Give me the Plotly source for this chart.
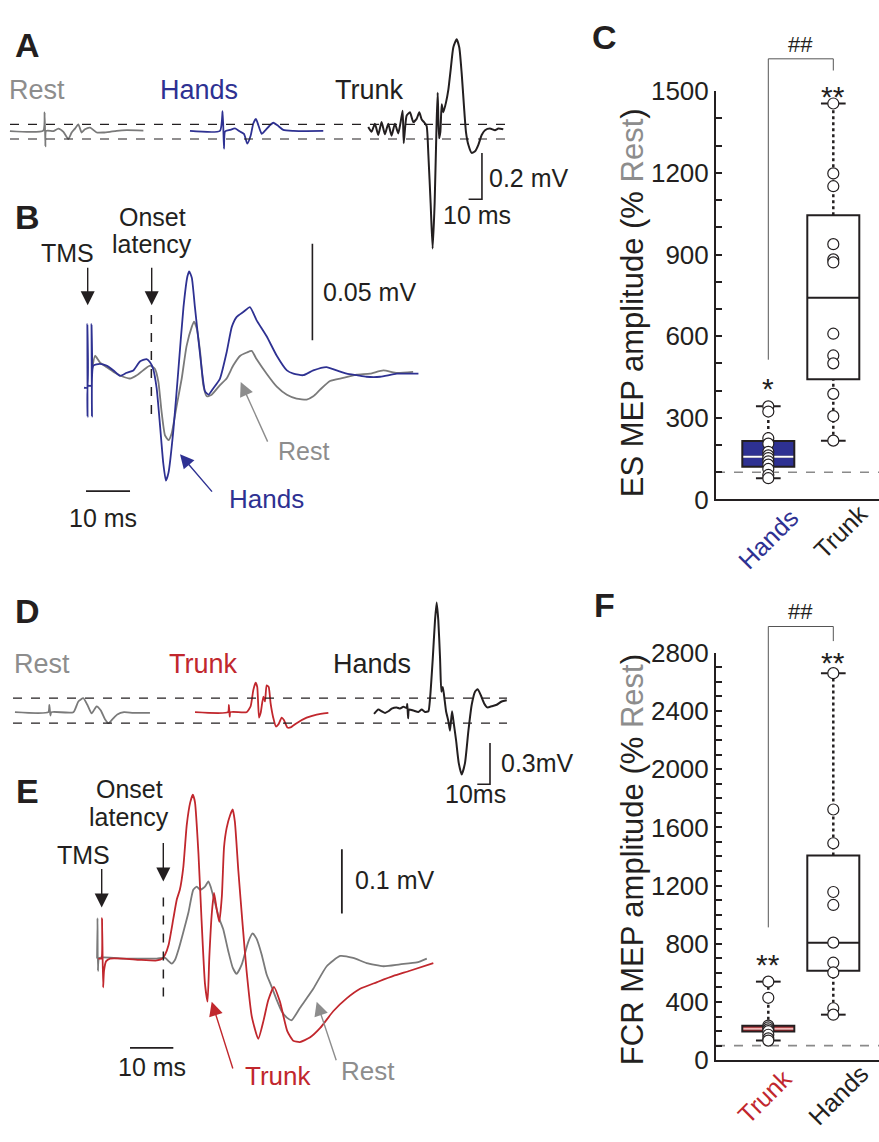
import plotly.graph_objects as go

W, H = 879, 1142
NAVY = "#2e3192"
RED = "#c1272d"
GREY = "#7a7a7a"
GREY_T = "#8d8d8d"
BLACK = "#231f20"
FONT = "Arial, Liberation Sans, Helvetica, sans-serif"

# ---------------------------------------------------------------- box data
c_groups = ["Hands", "Trunk"]
c_hands_pts = [342, 323, 225, 205, 175, 162, 152, 140, 128, 112, 90, 78]
c_trunk_pts = [1455, 1198, 1151, 938, 882, 871, 609, 529, 500, 388, 306, 216]
# q1, median, q3, lower whisker, upper whisker
c_hands_box = [120, 157, 215, 78, 342]
c_trunk_box = [442, 741, 1044, 216, 1455]

f_groups = ["Trunk", "Hands"]
f_trunk_pts = [540, 429, 238, 225, 212, 200, 175, 150, 135]
f_hands_pts = [2660, 1723, 1491, 1156, 1067, 808, 670, 603, 357, 313]
f_trunk_box = [197, 216, 236, 135, 540]
f_hands_box = [614, 808, 1406, 313, 2660]
rest_level = 100  # % Rest reference

c_ticks = [0, 300, 600, 900, 1200, 1500]
f_ticks = [0, 400, 800, 1200, 1600, 2000, 2400, 2800]

# ---------------------------------------------------------------- traces (ms, mV)
a_rest_t = [-26.3, -1.3, -0.3, 0.3, 0.8, 6.3, 10.0, 13.8, 17.5, 20.0, 22.5, 25.0, 27.5, 30.0, 33.8, 38.8, 43.8, 48.8, 53.8, 61.3, 73.8]
a_rest_v = [-0.001, 0.001, 0.080, -0.067, 0.0, -0.001, 0.010, -0.004, -0.035, -0.007, 0.010, 0.028, -0.007, 0.007, 0.014, -0.007, -0.007, -0.004, 0.0, 0.003, 0.001]

a_hands_t = [-25, -2.5, -0.5, 0.5, 1.3, 5, 8.8, 12.5, 15.5, 18, 20.5, 22.5, 24.5, 26.5, 28.8, 31.3, 34.5, 37.5, 41.3, 45, 52.5, 62.5, 75]
a_hands_v = [0, 0, 0.085, -0.077, -0.003, 0.004, 0.011, -0.003, -0.013, -0.055, -0.021, 0.032, 0.052, 0.021, -0.013, 0.001, 0.021, 0.035, 0.021, 0.004, 0, -0.001, 0]

a_trunk_t = [-26.3, -23.8, -21.3, -18.8, -16.3, -13.8, -11.3, -8.8, -6.3, -3.8, -2.0, -0.5, 0.3, 1.3, 2.5, 5.0, 7.5, 10.0, 12.0, 13.8,
             15.5, 17.5, 18.8, 20.5, 22.0, 23.5, 25.0, 25.8, 26.8, 27.8, 28.8, 30.0, 32.0, 33.8, 35.5, 37.5, 40.0, 42.0, 43.8, 45.5,
             47.0, 48.8, 51.3, 53.8, 56.3, 58.8, 61.3, 65.0, 68.8, 71.3, 75.0]
a_trunk_v = [0.017, -0.004, 0.031, -0.018, 0.038, -0.015, 0.031, -0.021, 0.031, -0.011, 0.038, 0.087, -0.053, 0.010, 0.066, 0.080, 0.038, 0.052, 0.080, 0.049,
             0.038, 0.021, -0.102, -0.312, -0.508, -0.312, 0.038, 0.164, -0.032, -0.004, 0.115, 0.080, 0.122, 0.178, 0.262, 0.360, 0.395, 0.360, 0.248, 0.108,
             -0.004, -0.060, -0.095, -0.088, -0.060, -0.018, 0.003, 0.010, 0.003, 0.010, 0.007]

# panel B in microvolts
b_hands_t = [-0.9, -0.2, -0.15, -0.1, 0.0, 0.75, 0.8, 0.9, 1.2, 2.7, 4.2, 5.8, 7.3, 8.8, 10.3, 11.8, 13.3, 14.1, 14.8, 15.6,
             16.4, 17.1, 17.7, 18.3, 19.4, 20.5, 21.7, 22.6, 23.0, 23.6, 24.3, 25.5, 26.6, 27.4, 28.5, 30.0, 31.5, 32.7, 33.8, 35.3,
             36.8, 38.3, 40.6, 42.9, 45.2, 46.7, 48.9, 51.2, 54.2, 56.5, 58.8, 61.1, 63.3, 66.4, 70.2, 75.1]
b_hands_v = [-9, -9, 24, -24, -8, -8, 24, -24, 2.5, 3.4, 2.5, 0, -2.8, -1.2, 0, 4.6, 5.9, 4.2, 0.9, -9.2,
             -29.4, -48, -57.2, -53, -31.1, -0.8, 32.8, 48.8, 51.4, 48, 32.8, 7.6, -10.9, -12.6, -9.2, -4.2, 9.3, 22.7, 27.8, 30.3,
             32.8, 26.1, 17.7, 7.6, 0, -1.7, -2.5, 0, 1.7, 0, -1.7, -2.5, -3.3, -3.3, -1.7, -1.7]
b_rest_t = [0.9, 1.6, 2.7, 4.2, 5.8, 8.0, 9.5, 11.1, 13.0, 14.1, 15.2, 16.0, 16.7, 17.5, 18.3, 19.0, 20.2, 21.3, 22.4, 23.6,
            24.1, 24.7, 25.5, 26.2, 27.0, 28.1, 30.0, 31.5, 33.0, 34.6, 36.1, 37.2, 38.3, 40.6, 42.9, 45.2, 47.4, 49.7, 51.2, 52.7,
            55.0, 58.0, 61.1, 64.1, 67.1, 70.2, 73.9]
b_rest_v = [0, 7.6, 4.2, 1.7, -0.8, -3.3, -4.2, -2.5, 0.9, 2.5, 0.9, -5.9, -21, -33.7, -36.2, -32.8, -17.7, -4.2, 12.6, 22.7,
            25.3, 21.9, 9.3, -7.6, -13.4, -12.6, -7.6, -4.2, 2.5, 7.6, 9.3, 10.1, 5.9, -1.7, -8.4, -12.6, -14.6, -15.1, -13.4, -10.1,
            -5.5, -3.9, -2.2, -1.7, 0, -1.3, -0.8]

d_rest_t = [-27.6, -1.3, -0.5, 0.3, 1.0, 18.4, 22.3, 26.2, 29.4, 32.8, 36.7, 39.9, 43.3, 45.9, 49.1, 53.0, 58.3, 65.6, 78.7]
d_rest_v = [0, 0, 0.054, -0.024, 0, 0, 0.078, 0.102, 0.054, -0.009, 0.043, 0.014, -0.052, -0.080, -0.052, -0.017, 0, -0.005, -0.005]

d_trunk_t = [-27.0, -1.0, -0.3, 0.3, 0.8, 13.6, 16.8, 18.9, 20.7, 22.0, 23.4, 24.7, 26.8, 28.1, 29.4, 31.0, 32.5, 34.6, 36.7, 38.8,
             41.2, 43.0, 45.7, 48.3, 53.0, 60.9, 68.8, 78.0]
d_trunk_v = [0, 0, 0.054, -0.033, 0, 0, 0.043, 0.161, 0.215, 0.184, -0.040, -0.005, 0.113, 0.078, 0.196, 0.184, 0.066, -0.040, -0.104, -0.087,
             -0.040, -0.057, -0.111, -0.111, -0.080, -0.040, -0.017, -0.005]

d_hands_t = [-26.5, -23.1, -20.5, -17.8, -15.2, -12.6, -8.7, -6.0, -3.4, -0.8, -0.3, 0.3, 1.0, 4.5, 8.4, 11.0, 13.6, 16.3, 17.6, 19.7,
             21.5, 22.8, 24.1, 25.5, 26.5, 27.6, 28.6, 30.2, 32.0, 33.3, 34.9, 36.2, 38.1, 40.2, 42.5, 45.1, 47.8, 50.4, 53.0, 55.1,
             57.5, 60.1, 62.7, 66.1, 70.1, 74.0, 78.0]
d_hands_v = [-0.012, 0.019, 0.007, -0.005, 0.007, 0.026, 0.035, 0.026, 0.040, 0.031, 0.059, -0.045, 0.019, 0.012, 0.002, 0.019, 0.002, 0.007, 0.102, 0.385,
             0.669, 0.799, 0.669, 0.385, 0.149, 0.184, 0.125, 0.007, -0.064, -0.135, 0.007, -0.076, -0.206, -0.371, -0.454, -0.371, -0.135, 0.054, 0.149, 0.168,
             0.125, 0.066, 0.035, 0.043, 0.054, 0.078, 0.087]

e_trunk_t = [-1.0, -0.3, -0.15, 0.1, 0.3, 0.8, 1.7, 4.8, 8.6, 12.5, 13.8, 14.4, 15.2, 16.3, 17.1, 17.8, 18.6, 19.4, 20.2, 20.8,
             21.3, 22.1, 22.8, 23.6, 24.2, 24.6, 25.2, 25.7, 26.3, 26.9, 27.5, 28.0, 28.6, 29.4, 30.0, 30.5, 31.3, 32.3, 33.2, 34.4,
             35.9, 37.1, 38.2, 39.5, 40.9, 42.6, 44.0, 45.5, 47.8, 50.2, 53.2, 56.3, 59.4, 63.2, 67.1, 70.9, 76.3]
e_trunk_v = [0, 0, 0.063, -0.045, -0.019, -0.004, 0, 0, -0.002, -0.003, 0, 0.006, 0.021, 0.062, 0.092, 0.107, 0.142, 0.208, 0.243, 0.255,
             0.243, 0.163, 0.062, -0.039, -0.067, 0.001, 0.072, 0.102, 0.077, 0.057, 0.097, 0.173, 0.203, 0.223, 0.232, 0.213, 0.137, 0.052, -0.019, -0.090,
             -0.125, -0.097, -0.065, -0.044, -0.067, -0.113, -0.128, -0.130, -0.123, -0.108, -0.082, -0.062, -0.047, -0.037, -0.027, -0.019, -0.007]
e_rest_t = [-1.3, -1.2, -1.1, -0.8, 4.8, 8.6, 12.5, 14.4, 15.2, 15.9, 16.7, 17.5, 18.6, 19.8, 20.9, 21.7, 22.5, 23.6, 24.4, 24.9,
            25.9, 26.9, 27.8, 29.0, 30.0, 30.9, 32.1, 33.6, 34.6, 35.5, 36.7, 37.8, 39.0, 40.2, 41.3, 42.5, 43.6, 45.5, 48.6, 51.7,
            54.8, 57.8, 60.9, 64.8, 68.6, 72.5, 74.8]
e_rest_v = [0, 0.063, -0.019, 0.001, 0, 0, 0, 0.001, -0.004, -0.008, -0.002, 0.014, 0.041, 0.072, 0.107, 0.112, 0.107, 0.112, 0.120, 0.112,
            0.087, 0.062, 0.046, 0.011, -0.014, -0.024, -0.009, 0.026, 0.039, 0.031, 0.006, -0.024, -0.044, -0.065, -0.082, -0.092, -0.096, -0.077, -0.047, -0.012,
            0.004, 0.001, -0.007, -0.012, -0.009, -0.006, 0]

onset_b_ms = 14.4
onset_e_ms = 14.0
scale_a = (10, 0.2)     # ms, mV
scale_b = (10, 50)      # ms, uV
scale_d = (10, 0.3)
scale_e = (10, 0.1)

# ---------------------------------------------------------------- layout helpers
fig = go.Figure()
lay = dict(width=W, height=H, margin=dict(l=0, r=0, t=0, b=0), paper_bgcolor="white",
           plot_bgcolor="rgba(0,0,0,0)", showlegend=False,
           font=dict(family=FONT, color=BLACK, size=24))


def xspec(p0, p1, origin, scale, anchor):
    return dict(domain=[p0 / W, p1 / W], range=[(p0 - origin) / scale, (p1 - origin) / scale],
                visible=False, fixedrange=True, anchor=anchor)


def yspec(ptop, pbot, base, scale, anchor):
    return dict(domain=[1 - pbot / H, 1 - ptop / H], range=[(base - pbot) / scale, (base - ptop) / scale],
                visible=False, fixedrange=True, anchor=anchor)


# Panel A axes
A_PX, A_PY = 1.333, 238.0
lay["yaxis3"] = yspec(5, 250, 119, A_PY, "x3")
lay["xaxis3"] = xspec(5, 160, 45, A_PX, "y3")
lay["xaxis4"] = xspec(175, 340, 223.3, A_PX, "y3")
lay["xaxis5"] = xspec(350, 540, 403.3, A_PX, "y3")
# Panel B
lay["yaxis4"] = yspec(225, 500, 365, 1.98, "x6")
lay["xaxis6"] = xspec(75, 440, 88, 4.4, "y4")
# Panel D
D_PX, D_PY = 1.27, 141.0
lay["yaxis5"] = yspec(592, 800, 716, D_PY, "x7")
lay["xaxis7"] = xspec(5, 165, 50, D_PX, "y5")
lay["xaxis8"] = xspec(180, 345, 229.3, D_PX, "y5")
lay["xaxis9"] = xspec(355, 540, 407.7, D_PX, "y5")
# Panel E
lay["yaxis6"] = yspec(790, 1072, 969, 660.0, "x10")
lay["xaxis10"] = xspec(85, 445, 102.7, 4.333, "y6")

# Box panels
XL, XR, XC0, XPU = 716, 879, 768.3, 65.0
box_x = dict(domain=[XL / W, XR / W], range=[(XL - XC0) / XPU, (XR - XC0) / XPU], showline=True,
             linewidth=2, linecolor=BLACK, ticks="", showticklabels=False, showgrid=False,
             zeroline=False, fixedrange=True)
lay["xaxis"] = dict(box_x, anchor="y")
lay["xaxis2"] = dict(box_x, anchor="y2")
ycommon = dict(showline=True, linewidth=2, linecolor=BLACK, ticks="inside", ticklen=6, tickwidth=2,
               tickcolor=BLACK, showgrid=False, zeroline=False, fixedrange=True,
               tickfont=dict(size=26, color=BLACK, family=FONT), tickmode="array")
lay["yaxis"] = dict(ycommon, domain=[1 - 497.5 / H, 1 - 78.3 / H], range=[0, 1500], tickvals=c_ticks,
                    minor=dict(ticks="inside", ticklen=6, tickwidth=2, tickcolor=BLACK, dtick=100, tick0=0),
                    anchor="x")
lay["yaxis2"] = dict(ycommon, domain=[1 - 1073.4 / H, 1 - 655 / H], range=[0, 2800], tickvals=f_ticks,
                     minor=dict(ticks="inside", ticklen=6, tickwidth=2, tickcolor=BLACK, dtick=100, tick0=0),
                     anchor="x2")


def line(xs, ys, xa, ya, color, width=1.8, dash=None, shape="spline"):
    fig.add_trace(go.Scatter(x=xs, y=ys, xaxis=xa, yaxis=ya, mode="lines",
                             line=dict(color=color, width=width, dash=dash, shape=shape, smoothing=0.5),
                             hoverinfo="skip"))


# ---------------------------------------------------------------- panel A
line(a_rest_t, a_rest_v, "x3", "y3", GREY)
line(a_hands_t, a_hands_v, "x4", "y3", NAVY)
line(a_trunk_t, a_trunk_v, "x5", "y3", BLACK, width=2)
bx, by = 59.0, -0.295
line([bx - scale_a[0], bx, bx], [by, by, by + scale_a[1]], "x5", "y3", BLACK, 1.6, shape="linear")

# ---------------------------------------------------------------- panel B
line(b_rest_t, b_rest_v, "x6", "y4", GREY)
line(b_hands_t, b_hands_v, "x6", "y4", NAVY)
line([onset_b_ms, onset_b_ms], [28.8, -26.3], "x6", "y4", BLACK, 1.5, dash="dash", shape="linear")
line([51, 51], [15.7, 15.7 + scale_b[1]], "x6", "y4", BLACK, 1.6, shape="linear")
line([-0.45, -0.45 + scale_b[0]], [-62.6, -62.6], "x6", "y4", BLACK, 1.6, shape="linear")

# ---------------------------------------------------------------- panel D
line(d_rest_t, d_rest_v, "x7", "y5", GREY)
line(d_trunk_t, d_trunk_v, "x8", "y5", RED)
line(d_hands_t, d_hands_v, "x9", "y5", BLACK, width=2)
bx, by = 64.8, -0.525
line([bx - scale_d[0], bx, bx], [by, by, by + scale_d[1]], "x9", "y5", BLACK, 1.6, shape="linear")

# ---------------------------------------------------------------- panel E
line(e_rest_t, e_rest_v, "x10", "y6", GREY)
line(e_trunk_t, e_trunk_v, "x10", "y6", RED)
line([onset_e_ms, onset_e_ms], [0.095, -0.070], "x10", "y6", BLACK, 1.5, dash="dash", shape="linear")
line([55.2, 55.2], [0.070, 0.070 + scale_e[1]], "x10", "y6", BLACK, 1.8, shape="linear")
line([6.3, 6.3 + scale_e[0]], [-0.139, -0.139], "x10", "y6", BLACK, 1.6, shape="linear")

# rest amplitude reference lines (max / min of rest trace outside the stimulus artifact)
shapes = []


def rest_bounds(t, v):
    vals = [vv for tt, vv in zip(t, v) if abs(tt) > 2]
    return max(vals), min(vals)


for (t, v, ya, x0, x1) in [(a_rest_t, a_rest_v, "y3", 10, 505), (d_rest_t, d_rest_v, "y5", 13, 507)]:
    for lvl in rest_bounds(t, v):
        shapes.append(dict(type="line", xref="paper", yref=ya, x0=x0 / W, x1=x1 / W, y0=lvl, y1=lvl,
                           line=dict(color=BLACK, width=1.2, dash="dash")))


# ---------------------------------------------------------------- box panels
def boxpanel(xa, ya, pts_list, box_list, fills, med_cols):
    for i, (pts, bstat, fill, mcol) in enumerate(zip(pts_list, box_list, fills, med_cols)):
        q1, med, q3, lo, hi = bstat
        fig.add_trace(go.Box(x=[i], q1=[q1], median=[med], q3=[q3], lowerfence=[q1], upperfence=[q3],
                             width=0.8, fillcolor=fill, line=dict(color=BLACK, width=2), whiskerwidth=0,
                             boxpoints=False, xaxis=xa, yaxis=ya, hoverinfo="skip"))
        if mcol != BLACK:
            fig.add_trace(go.Scatter(x=[i - 0.385, i + 0.385], y=[med, med], mode="lines", xaxis=xa, yaxis=ya,
                                     line=dict(color=mcol, width=2), hoverinfo="skip"))
        for a, b in [(q3, hi), (lo, q1)]:
            fig.add_trace(go.Scatter(x=[i, i], y=[a, b], mode="lines", xaxis=xa, yaxis=ya,
                                     line=dict(color=BLACK, width=2.5, dash="dot"), hoverinfo="skip"))
        for c in (lo, hi):
            fig.add_trace(go.Scatter(x=[i - 0.19, i + 0.19], y=[c, c], mode="lines", xaxis=xa, yaxis=ya,
                                     line=dict(color=BLACK, width=2), hoverinfo="skip"))
        fig.add_trace(go.Scatter(x=[i] * len(pts), y=pts, mode="markers", xaxis=xa, yaxis=ya, cliponaxis=False,
                                 marker=dict(symbol="circle", size=11, color="white",
                                             line=dict(color=BLACK, width=1.2)), hoverinfo="skip"))
    shapes.append(dict(type="line", xref=xa + " domain", yref=ya, x0=0, x1=1, y0=rest_level, y1=rest_level,
                       line=dict(color="#8a8a8a", width=1.6, dash="dash"), layer="below"))


boxpanel("x", "y", [c_hands_pts, c_trunk_pts], [c_hands_box, c_trunk_box], [NAVY, "white"], ["white", BLACK])
boxpanel("x2", "y2", [f_trunk_pts, f_hands_pts], [f_trunk_box, f_hands_box], [RED, "white"], ["#f4b6b6", BLACK])

# significance brackets
for (yl, yt, yr) in [(354, 45, 57), (937, 628, 643)]:
    xs = [768.3, 768.3, 833.3, 833.3]
    ys = [yl, yt, yt, yr]
    for k in range(3):
        shapes.append(dict(type="line", xref="paper", yref="paper", x0=xs[k] / W, x1=xs[k + 1] / W,
                           y0=1 - ys[k] / H, y1=1 - ys[k + 1] / H, line=dict(color="#555555", width=1)))

# ---------------------------------------------------------------- annotations
anns = []


def txt(s, x, y, size=25, color=BLACK, xanchor="center", angle=0, bold=False):
    if bold:
        s = "<b>" + s + "</b>"
    anns.append(dict(text=s, x=x / W, y=1 - y / H, xref="paper", yref="paper", showarrow=False,
                     xanchor=xanchor, yanchor="middle", textangle=angle,
                     font=dict(size=size, color=color, family=FONT)))


def arrow(hx, hy, tx, ty, color=BLACK):
    anns.append(dict(text="", x=hx / W, y=1 - hy / H, xref="paper", yref="paper", showarrow=True,
                     ax=tx - hx, ay=ty - hy, axref="pixel", ayref="pixel", arrowhead=2, arrowsize=2.0,
                     arrowwidth=1.4, arrowcolor=color, standoff=0, startstandoff=0))


for s, x, y in [("A", 27, 31), ("B", 27, 207), ("C", 604, 23), ("D", 27, 612), ("E", 27, 797), ("F", 604, 606)]:
    txt(s, x, y, size=34, bold=True)

LBL = 27
# A
txt("Rest", 37, 77, size=LBL, color=GREY_T)
txt("Hands", 199, 77, size=LBL, color=NAVY)
txt("Trunk", 369, 77, size=LBL)
txt("0.2 mV", 487, 167, xanchor="left")
txt("10 ms", 477, 205)
# B
txt("TMS", 67, 244)
txt("Onset", 152, 207)
txt("latency", 152, 235)
txt("0.05 mV", 321, 284, xanchor="left")
txt("10 ms", 103, 517)
txt("Hands", 266, 497, size=26, color=NAVY)
txt("Rest", 303, 448, color=GREY_T)
arrow(87.7, 298, 87.7, 259)
arrow(151.7, 298, 151.7, 259)
arrow(180, 451, 213.3, 490, NAVY)
arrow(240.7, 377, 268.3, 438, GREY_T)
# C
txt("##", 800, 30, size=22)
txt("**", 833, 84, size=30)
txt("*", 768, 384, size=30)
txt("ES MEP amplitude (% <span style='color:#8d8d8d'>Rest</span>)", 632, 296, size=31, angle=-90)
txt("Hands", 768, 538, size=25, color=NAVY, angle=-45)
txt("Trunk", 840, 531, size=25, angle=-45)
# D
txt("Rest", 42, 667, size=LBL, color=GREY_T)
txt("Trunk", 203, 667, size=LBL, color=RED)
txt("Hands", 372, 667, size=LBL)
txt("0.3mV", 499, 768, xanchor="left")
txt("10ms", 475, 800)
# E
txt("Onset", 129, 795)
txt("latency", 129, 824)
txt("TMS", 83, 863)
txt("0.1 mV", 395, 888)
txt("10 ms", 152, 1080)
txt("Trunk", 278, 1090, size=26, color=RED)
txt("Rest", 368, 1085, size=26, color=GREY_T)
arrow(101.7, 916.7, 101.7, 876.7)
arrow(163.3, 890, 163.3, 850)
arrow(211.7, 1013.3, 233.3, 1081.7, RED)
arrow(316.7, 1013.3, 336.7, 1073.3, GREY_T)
# F
txt("##", 800, 613, size=22)
txt("**", 833, 665, size=30)
txt("**", 768, 975, size=30)
txt("FCR MEP amplitude (% <span style='color:#8d8d8d'>Rest</span>)", 632, 868, size=31, angle=-90)
txt("Trunk", 764, 1111, size=25, color=RED, angle=-45)
txt("Hands", 838, 1109, size=25, angle=-45)

lay["shapes"] = shapes
lay["annotations"] = anns
fig.update_layout(**lay)
fig.write_html("out.html")
